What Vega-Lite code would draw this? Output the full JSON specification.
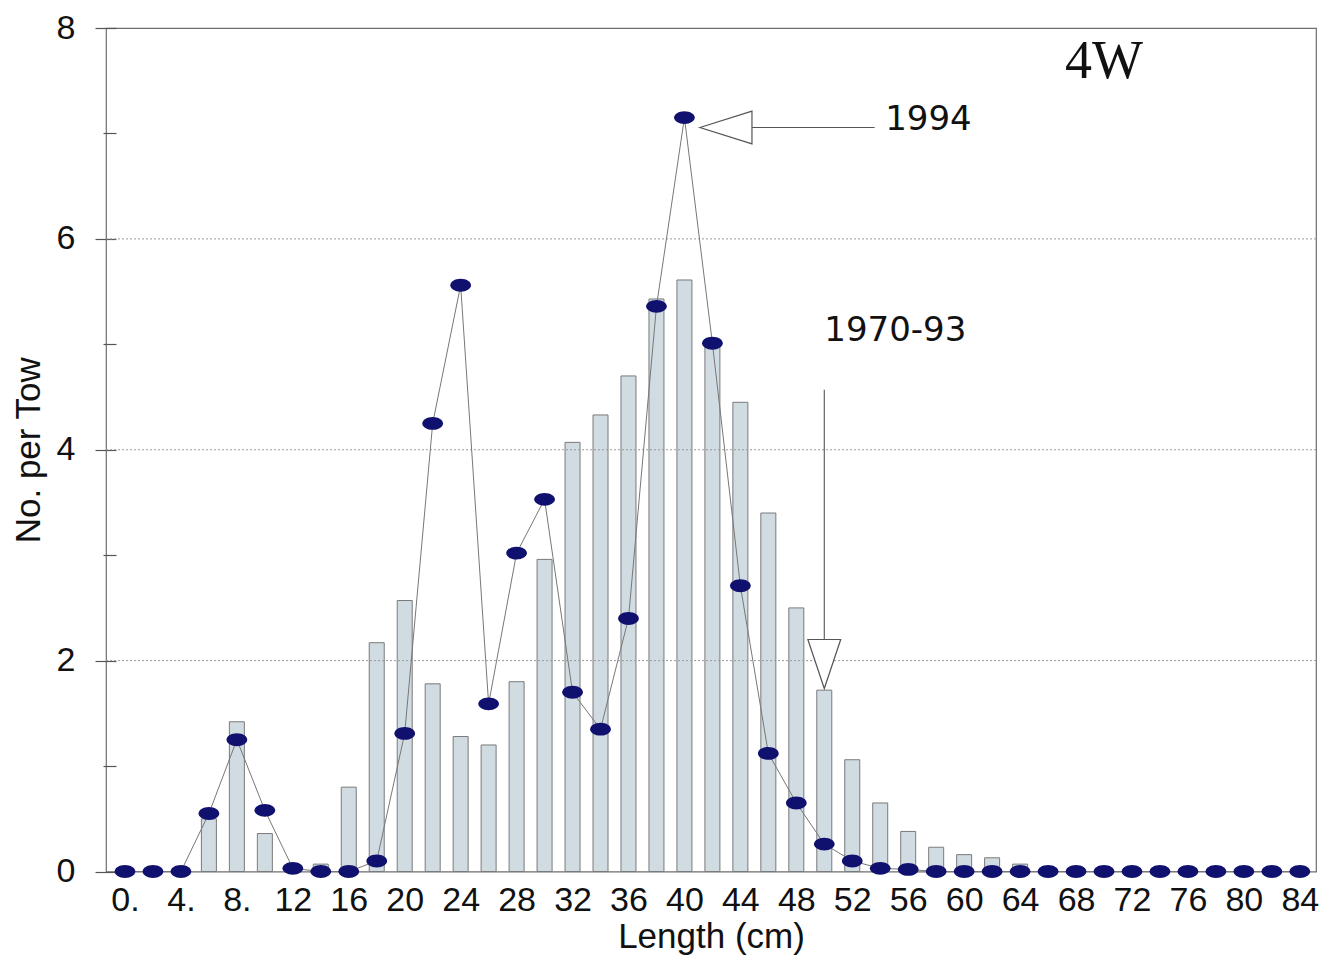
{
  "$schema": "https://vega.github.io/schema/vega-lite/v6.json",
  "width": 1210,
  "height": 843.5,
  "autosize": "none",
  "padding": {"left": 106, "top": 28, "right": 17, "bottom": 83},
  "background": "white",
  "config": {
    "view": {"stroke": "#6e6e6e", "strokeWidth": 1.2},
    "font": "Liberation Sans"
  },
  "datasets": {
    "lengths": [
      {"len": 0, "avg": 0, "y1994": 0},
      {"len": 2, "avg": 0, "y1994": 0},
      {"len": 4, "avg": 0, "y1994": 0},
      {"len": 6, "avg": 0.5, "y1994": 0.55},
      {"len": 8, "avg": 1.42, "y1994": 1.25},
      {"len": 10, "avg": 0.36, "y1994": 0.58},
      {"len": 12, "avg": 0, "y1994": 0.03},
      {"len": 14, "avg": 0.07, "y1994": 0},
      {"len": 16, "avg": 0.8, "y1994": 0},
      {"len": 18, "avg": 2.17, "y1994": 0.1},
      {"len": 20, "avg": 2.57, "y1994": 1.31},
      {"len": 22, "avg": 1.78, "y1994": 4.25},
      {"len": 24, "avg": 1.28, "y1994": 5.56},
      {"len": 26, "avg": 1.2, "y1994": 1.59},
      {"len": 28, "avg": 1.8, "y1994": 3.02},
      {"len": 30, "avg": 2.96, "y1994": 3.53},
      {"len": 32, "avg": 4.07, "y1994": 1.7},
      {"len": 34, "avg": 4.33, "y1994": 1.35},
      {"len": 36, "avg": 4.7, "y1994": 2.4},
      {"len": 38, "avg": 5.43, "y1994": 5.36},
      {"len": 40, "avg": 5.61, "y1994": 7.15},
      {"len": 42, "avg": 5.05, "y1994": 5.01},
      {"len": 44, "avg": 4.45, "y1994": 2.71},
      {"len": 46, "avg": 3.4, "y1994": 1.12},
      {"len": 48, "avg": 2.5, "y1994": 0.65},
      {"len": 50, "avg": 1.72, "y1994": 0.26},
      {"len": 52, "avg": 1.06, "y1994": 0.1},
      {"len": 54, "avg": 0.65, "y1994": 0.03},
      {"len": 56, "avg": 0.38, "y1994": 0.02},
      {"len": 58, "avg": 0.23, "y1994": 0},
      {"len": 60, "avg": 0.16, "y1994": 0},
      {"len": 62, "avg": 0.13, "y1994": 0},
      {"len": 64, "avg": 0.07, "y1994": 0},
      {"len": 66, "avg": 0, "y1994": 0},
      {"len": 68, "avg": 0, "y1994": 0},
      {"len": 70, "avg": 0, "y1994": 0},
      {"len": 72, "avg": 0, "y1994": 0},
      {"len": 74, "avg": 0, "y1994": 0},
      {"len": 76, "avg": 0, "y1994": 0},
      {"len": 78, "avg": 0, "y1994": 0},
      {"len": 80, "avg": 0, "y1994": 0},
      {"len": 82, "avg": 0, "y1994": 0},
      {"len": 84, "avg": 0, "y1994": 0}
    ],
    "gridlines": [{"val": 2}, {"val": 4}, {"val": 6}],
    "pointers": [
      {"len": 44.8, "len2": 53.6, "val": 7.056, "val2": 7.056},
      {"len": 50, "len2": 50, "val": 4.57, "val2": 2.2}
    ],
    "headLeft": [{"len": 42.97, "val": 7.056}],
    "headDown": [{"len": 50, "val": 1.968}],
    "seriesLabels": [
      {"len": 54.35, "val": 7.035, "label": "1994"},
      {"len": 50, "val": 5.03, "label": "1970-93"}
    ],
    "areaLabel": [{"len": 70, "val": 7.53, "label": "4W"}]
  },
  "layer": [
    {
      "data": {"name": "lengths"},
      "transform": [{"filter": "datum.avg > 0"}],
      "mark": {"type": "bar", "size": 15, "fill": "#d1dbe2", "stroke": "#7a7a7a", "strokeWidth": 1},
      "encoding": {
        "x": {
          "field": "len",
          "type": "quantitative",
          "scale": {"domain": [-1, 84.8], "nice": false, "zero": false},
          "axis": {
            "values": [0,1,2,3,4,5,6,7,8,9,10,11,12,13,14,15,16,17,18,19,20,21,22,23,24,25,26,27,28,29,30,31,32,33,34,35,36,37,38,39,40,41,42,43,44,45,46,47,48,49,50,51,52,53,54,55,56,57,58,59,60,61,62,63,64,65,66,67,68,69,70,71,72,73,74,75,76,77,78,79,80,81,82,83,84],
            "labelExpr": "datum.value % 4 == 0 ? (datum.value < 10 ? datum.value + '.' : '' + datum.value) : ''",
            "tickOpacity": {"condition": {"test": "datum.value % 2 == 1", "value": 1}, "value": 0},
            "labelOverlap": false,
            "labelFlush": false,
            "grid": false,
            "domain": false,
            "offset": -17,
            "tickSize": 29,
            "tickColor": "#555555",
            "tickWidth": 1.2,
            "labelFontSize": 34,
            "labelColor": "#111111",
            "labelPadding": 0,
            "title": "Length (cm)",
            "titleFontSize": 35,
            "titleFontWeight": "normal",
            "titleColor": "#111111",
            "titlePadding": 2
          }
        },
        "y": {
          "field": "avg",
          "type": "quantitative",
          "scale": {"domain": [0, 8], "nice": false},
          "axis": {
            "values": [0, 1, 2, 3, 4, 5, 6, 7, 8],
            "labelExpr": "datum.value % 2 == 0 ? '' + datum.value : ''",
            "tickSize": {"condition": {"test": "datum.value % 2 == 0", "value": 21}, "value": 13},
            "tickColor": "#555555",
            "tickWidth": 1.2,
            "offset": -10,
            "domain": false,
            "grid": false,
            "labelFontSize": 34,
            "labelColor": "#111111",
            "labelPadding": 20,
            "title": "No. per Tow",
            "titleFontSize": 35,
            "titleFontWeight": "normal",
            "titleColor": "#111111",
            "titlePadding": 10
          }
        }
      }
    },
    {
      "data": {"name": "gridlines"},
      "mark": {"type": "rule", "color": "#9a9a9a", "strokeWidth": 1, "strokeDash": [2, 2]},
      "encoding": {
        "y": {"field": "val", "type": "quantitative"}
      }
    },
    {
      "data": {"name": "lengths"},
      "mark": {"type": "line", "color": "#777777", "strokeWidth": 1},
      "encoding": {
        "x": {"field": "len", "type": "quantitative"},
        "y": {"field": "y1994", "type": "quantitative"},
        "order": {"field": "len"}
      }
    },
    {
      "data": {"name": "lengths"},
      "mark": {
        "type": "point",
        "shape": "M -1 0 A 1 0.62 0 1 0 1 0 A 1 0.62 0 1 0 -1 0 Z",
        "size": 430,
        "filled": true,
        "fill": "#10106e",
        "opacity": 1
      },
      "encoding": {
        "x": {"field": "len", "type": "quantitative"},
        "y": {"field": "y1994", "type": "quantitative"}
      }
    },
    {
      "data": {"name": "pointers"},
      "mark": {"type": "rule", "color": "#555555", "strokeWidth": 1.1},
      "encoding": {
        "x": {"field": "len", "type": "quantitative"},
        "x2": {"field": "len2"},
        "y": {"field": "val", "type": "quantitative"},
        "y2": {"field": "val2"}
      }
    },
    {
      "data": {"name": "headLeft"},
      "mark": {
        "type": "point",
        "shape": "M -1 0 L 1 -0.63 L 1 0.63 Z",
        "size": 2704,
        "filled": true,
        "fill": "white",
        "stroke": "#555555",
        "strokeWidth": 1.2,
        "opacity": 1
      },
      "encoding": {
        "x": {"field": "len", "type": "quantitative"},
        "y": {"field": "val", "type": "quantitative"}
      }
    },
    {
      "data": {"name": "headDown"},
      "mark": {
        "type": "point",
        "shape": "M 0 1 L -0.67 -1 L 0.67 -1 Z",
        "size": 2401,
        "filled": true,
        "fill": "white",
        "stroke": "#555555",
        "strokeWidth": 1.2,
        "opacity": 1
      },
      "encoding": {
        "x": {"field": "len", "type": "quantitative"},
        "y": {"field": "val", "type": "quantitative"}
      }
    },
    {
      "data": {"name": "seriesLabels"},
      "mark": {"type": "text", "font": "DejaVu Sans", "fontSize": 34, "align": "left", "baseline": "alphabetic", "color": "#111111"},
      "encoding": {
        "x": {"field": "len", "type": "quantitative"},
        "y": {"field": "val", "type": "quantitative"},
        "text": {"field": "label"}
      }
    },
    {
      "data": {"name": "areaLabel"},
      "mark": {"type": "text", "font": "Liberation Serif", "fontSize": 54, "align": "center", "baseline": "alphabetic", "color": "#111111"},
      "encoding": {
        "x": {"field": "len", "type": "quantitative"},
        "y": {"field": "val", "type": "quantitative"},
        "text": {"field": "label"}
      }
    }
  ]
}
